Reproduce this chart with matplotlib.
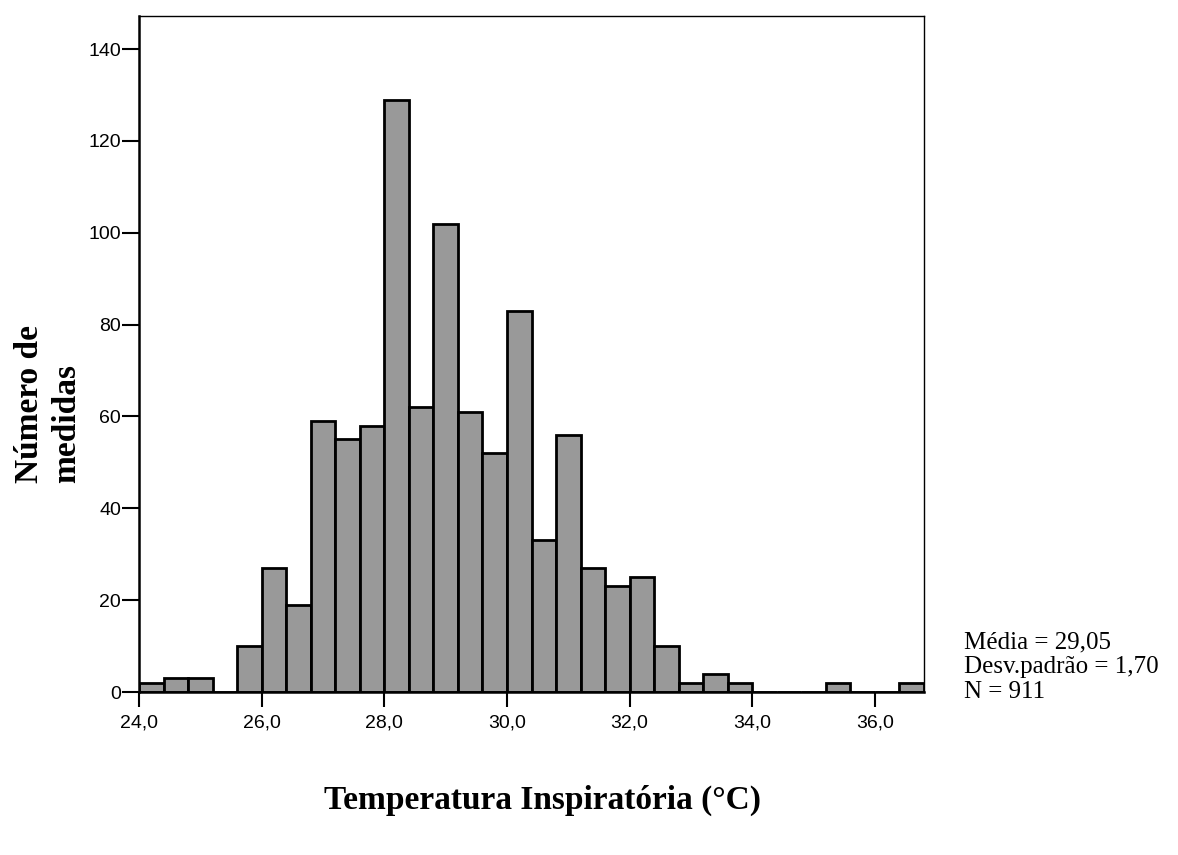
import numpy as np
import matplotlib.pyplot as plt

# histogram of inspiratory temperature, bins of 0.4 starting at 24.0
bin_start = 24.0
bin_width = 0.4
counts = [2, 3, 3, 0, 10,
          27, 19, 59, 55, 58,
          129, 62, 102, 61, 52,
          83, 33, 56, 27, 23,
          25, 10, 2, 4, 2,
          0, 0, 0, 2, 0, 0, 2]
x_ticks = [24.0, 26.0, 28.0, 30.0, 32.0, 34.0, 36.0]
y_ticks = [0, 20, 40, 60, 80, 100, 120, 140]
stats_lines = ["Média = 29,05", "Desv.padrão = 1,70", "N = 911"]

edges = bin_start + bin_width * np.arange(len(counts) + 1)

W, H = 1178, 855
fig = plt.figure(figsize=(W / 100, H / 100), dpi=100)
ax = fig.add_axes([139 / W, 1 - 692 / H, (924 - 139) / W, (692 - 16) / H])

ax.bar(edges[:-1], counts, width=bin_width, align='edge',
       color='#999999', edgecolor='black', linewidth=2.0)

ax.set_xlim(edges[0], edges[-1])
ax.set_ylim(0, 147.2)

ax.set_xticks(x_ticks)
ax.set_xticklabels([f"{t:.1f}".replace('.', ',') for t in x_ticks],
                   fontsize=14, family='Liberation Sans')
ax.set_yticks(y_ticks)
ax.set_yticklabels([str(t) for t in y_ticks], fontsize=14, family='Liberation Sans')
ax.tick_params(axis='x', direction='out', length=11, width=1.5, pad=5)
ax.tick_params(axis='y', direction='out', length=12, width=1.5, pad=1)

for side in ['top', 'right']:
    ax.spines[side].set_linewidth(1.0)
for side in ['left', 'bottom']:
    ax.spines[side].set_linewidth(1.8)

# y label in two lines, bold serif, lines start at the same height
fig.text(48 / W, 1 - 483 / H, "Número de\nmedidas", rotation=90, ha='center', va='bottom',
         multialignment='left', fontsize=24, fontweight='bold', family='Liberation Serif',
         linespacing=1.25)

fig.text(542 / W, 1 - 800 / H, "Temperatura Inspiratória (°C)", ha='center', va='center',
         fontsize=24, fontweight='bold', family='Liberation Serif')

# summary statistics, tight lines
for i, line in enumerate(stats_lines):
    fig.text(964 / W, 1 - (648 + 25 * i) / H, line, ha='left', va='baseline',
             fontsize=18, family='Liberation Serif')

fig.savefig('out.png', dpi=100)
